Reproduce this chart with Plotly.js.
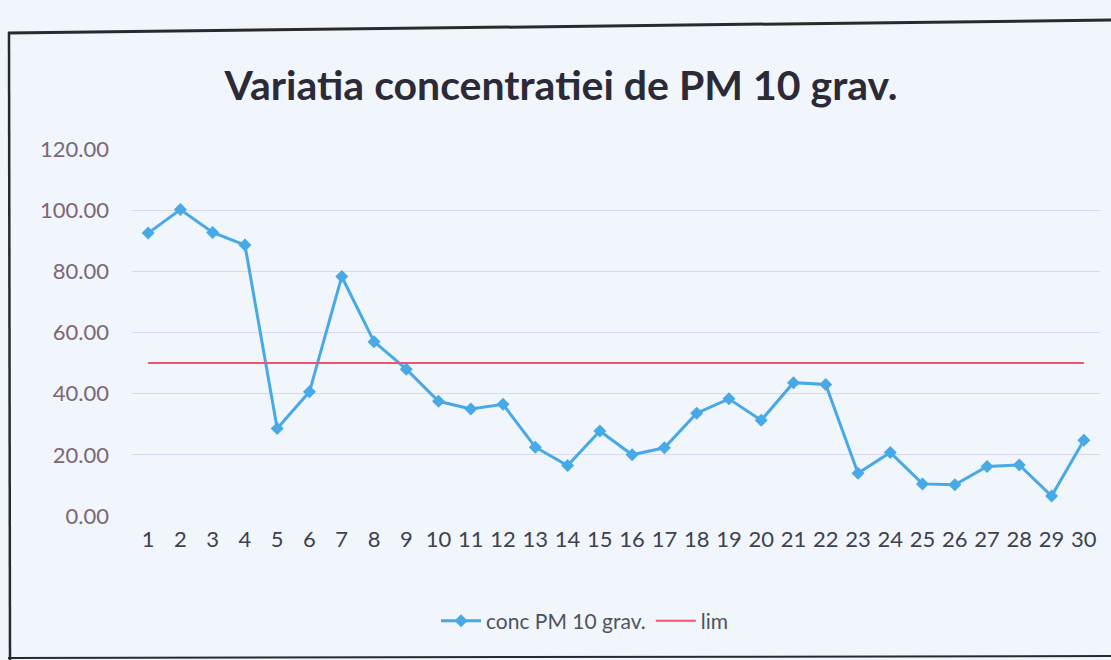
<!DOCTYPE html>
<html>
<head>
<meta charset="utf-8">
<script src="https://cdn.plot.ly/plotly-3.0.1.min.js"></script>
<style>
  html, body { margin: 0; padding: 0; background: #f1f5fc; }
  #chart { width: 1111px; height: 660px; }
</style>
</head>
<body>
<div id="chart"></div>
<script>
// ---- data ----
const days = ["1","2","3","4","5","6","7","8","9","10","11","12","13","14","15",
              "16","17","18","19","20","21","22","23","24","25","26","27","28","29","30"];
const concPM10 = [92.5, 100.2, 92.7, 88.6, 28.6, 40.6, 78.3, 57.0, 48.0, 37.5,
                  35.0, 36.5, 22.5, 16.5, 27.8, 20.0, 22.3, 33.6, 38.3, 31.3,
                  43.6, 43.0, 14.0, 20.8, 10.5, 10.2, 16.2, 16.7, 6.5, 24.8];
const limValues = [50,50,50,50,50,50,50,50,50,50,50,50,50,50,50,
                   50,50,50,50,50,50,50,50,50,50,50,50,50,50,50];
const yTicks = [0, 20, 40, 60, 80, 100, 120];
const seriesNames = ["conc PM 10 grav.", "lim"];
const chartTitle = "Variatia concentratiei de PM 10 grav.";

// ---- layout geometry ----
const W = 1111, H = 660;
const M = {l: 132, r: 11, t: 149, b: 144};
const pw = W - M.l - M.r, ph = H - M.t - M.b;
const px = x => (x - M.l) / pw;          // pixel -> paper x
const py = y => (H - M.b - y) / ph;      // pixel -> paper y

const traces = [
  {
    x: days, y: concPM10, name: seriesNames[0], type: "scatter", mode: "lines+markers",
    line: {color: "#47a9e6", width: 3},
    marker: {symbol: "diamond", size: 10, color: "#47a9e6"}
  },
  {
    x: days, y: limValues, name: seriesNames[1], type: "scatter", mode: "lines",
    line: {color: "#ef5470", width: 2}
  }
];

const layout = {
  width: W, height: H,
  margin: M,
  paper_bgcolor: "#f1f5fc",
  plot_bgcolor: "#f1f5fc",
  font: {family: "Lato, 'Open Sans', sans-serif"},
  title: {
    text: "<b>" + chartTitle + "</b>",
    font: {family: "Lato, 'Open Sans', sans-serif", size: 41, color: "#2b2a36"},
    xref: "container", yref: "container",
    x: 0.505, xanchor: "center", y: 1 - 86 / H, yanchor: "middle"
  },
  xaxis: {
    type: "category",
    range: [-0.5, 29.5],
    showgrid: false, zeroline: false, showline: false,
    ticks: "",
    tickfont: {size: 22, color: "#3d4150"},
    ticklabelstandoff: 8
  },
  yaxis: {
    range: [0, 120],
    tickvals: yTicks,
    tickformat: ".2f",
    showgrid: true, gridcolor: "#d9d8ee", gridwidth: 1,
    zeroline: false, showline: false, ticks: "",
    tickfont: {size: 22, color: "#7d6676"},
    ticklabelstandoff: 22
  },
  showlegend: true,
  legend: {
    orientation: "h",
    x: px(585), xanchor: "center",
    y: py(621), yanchor: "middle",
    font: {size: 21, color: "#50535f"},
    bgcolor: "rgba(0,0,0,0)",
    itemwidth: 40
  },
  shapes: [
    {type: "line", xref: "paper", yref: "paper",
     x0: px(8), y0: py(33), x1: px(1115), y1: py(20),
     line: {color: "#2a2a2a", width: 3}},
    {type: "line", xref: "paper", yref: "paper",
     x0: px(9), y0: py(32), x1: px(10), y1: py(662),
     line: {color: "#2a2a2a", width: 2.5}},
    {type: "line", xref: "paper", yref: "paper",
     x0: px(8), y0: py(658), x1: px(1115), y1: py(656),
     line: {color: "#2a2a2a", width: 2}}
  ]
};

Plotly.newPlot("chart", traces, layout, {displayModeBar: false, staticPlot: true});
</script>
</body>
</html>
